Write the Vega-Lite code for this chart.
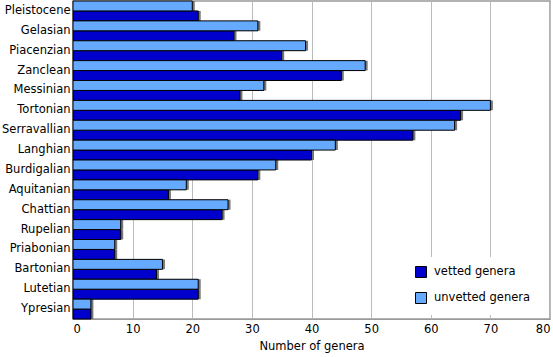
{
  "$schema": "https://vega.github.io/schema/vega-lite/v6.json",
  "width": 477,
  "height": 318,
  "autosize": "none",
  "padding": {"left": 73, "top": 1, "right": 3, "bottom": 38},
  "background": "white",
  "config": {
    "font": "DejaVu Sans",
    "view": {"stroke": "#999999", "strokeWidth": 1.5}
  },
  "data": {
    "values": [
      {"stage": "Pleistocene", "series": "vetted genera", "n": 21},
      {"stage": "Pleistocene", "series": "unvetted genera", "n": 20},
      {"stage": "Gelasian", "series": "vetted genera", "n": 27},
      {"stage": "Gelasian", "series": "unvetted genera", "n": 31},
      {"stage": "Piacenzian", "series": "vetted genera", "n": 35},
      {"stage": "Piacenzian", "series": "unvetted genera", "n": 39},
      {"stage": "Zanclean", "series": "vetted genera", "n": 45},
      {"stage": "Zanclean", "series": "unvetted genera", "n": 49},
      {"stage": "Messinian", "series": "vetted genera", "n": 28},
      {"stage": "Messinian", "series": "unvetted genera", "n": 32},
      {"stage": "Tortonian", "series": "vetted genera", "n": 65},
      {"stage": "Tortonian", "series": "unvetted genera", "n": 70},
      {"stage": "Serravallian", "series": "vetted genera", "n": 57},
      {"stage": "Serravallian", "series": "unvetted genera", "n": 64},
      {"stage": "Langhian", "series": "vetted genera", "n": 40},
      {"stage": "Langhian", "series": "unvetted genera", "n": 44},
      {"stage": "Burdigalian", "series": "vetted genera", "n": 31},
      {"stage": "Burdigalian", "series": "unvetted genera", "n": 34},
      {"stage": "Aquitanian", "series": "vetted genera", "n": 16},
      {"stage": "Aquitanian", "series": "unvetted genera", "n": 19},
      {"stage": "Chattian", "series": "vetted genera", "n": 25},
      {"stage": "Chattian", "series": "unvetted genera", "n": 26},
      {"stage": "Rupelian", "series": "vetted genera", "n": 8},
      {"stage": "Rupelian", "series": "unvetted genera", "n": 8},
      {"stage": "Priabonian", "series": "vetted genera", "n": 7},
      {"stage": "Priabonian", "series": "unvetted genera", "n": 7},
      {"stage": "Bartonian", "series": "vetted genera", "n": 14},
      {"stage": "Bartonian", "series": "unvetted genera", "n": 15},
      {"stage": "Lutetian", "series": "vetted genera", "n": 21},
      {"stage": "Lutetian", "series": "unvetted genera", "n": 21},
      {"stage": "Ypresian", "series": "vetted genera", "n": 3},
      {"stage": "Ypresian", "series": "unvetted genera", "n": 3}
    ]
  },
  "encoding": {
    "y": {
      "field": "stage",
      "type": "nominal",
      "sort": null,
      "scale": {"paddingInner": 0, "paddingOuter": 0},
      "axis": {
        "title": null,
        "ticks": false,
        "domain": true,
        "domainColor": "#999999",
        "labelFontSize": 11.5,
        "labelColor": "black",
        "labelPadding": 3
      }
    },
    "yOffset": {
      "field": "series",
      "type": "nominal",
      "sort": ["unvetted genera", "vetted genera"],
      "scale": {"paddingInner": 0, "paddingOuter": 0}
    },
    "x": {
      "field": "n",
      "type": "quantitative",
      "scale": {"domain": [0, 80], "nice": false},
      "axis": {
        "values": [0, 10, 20, 30, 40, 50, 60, 70, 80],
        "title": "Number of genera",
        "titleFontWeight": "normal",
        "titleFontSize": 11.5,
        "titleColor": "black",
        "titlePadding": 6,
        "labelFontSize": 11.5,
        "labelColor": "black",
        "labelPadding": 4,
        "ticks": false,
        "domainColor": "#999999",
        "grid": true,
        "gridColor": "#bbbbbb",
        "gridWidth": 1
      }
    }
  },
  "layer": [
    {
      "mark": {"type": "bar", "color": "#777777", "xOffset": 2.5, "yOffset": 2.5, "x2Offset": 2.5, "y2Offset": 2.5, "stroke": null}
    },
    {
      "mark": {"type": "bar", "stroke": "black", "strokeWidth": 1},
      "encoding": {
        "color": {
          "field": "series",
          "type": "nominal",
          "scale": {"domain": ["vetted genera", "unvetted genera"], "range": ["#0000cc", "#66aaff"]},
          "legend": {
            "title": null,
            "orient": "none",
            "legendX": 333,
            "legendY": 256,
            "padding": 9,
            "fillColor": "white",
            "symbolType": "square",
            "symbolSize": 121,
            "symbolStrokeColor": "black",
            "symbolStrokeWidth": 1,
            "symbolOpacity": 1,
            "labelFontSize": 11.5,
            "labelColor": "black",
            "labelOffset": 7,
            "rowPadding": 10
          }
        }
      }
    }
  ]
}
